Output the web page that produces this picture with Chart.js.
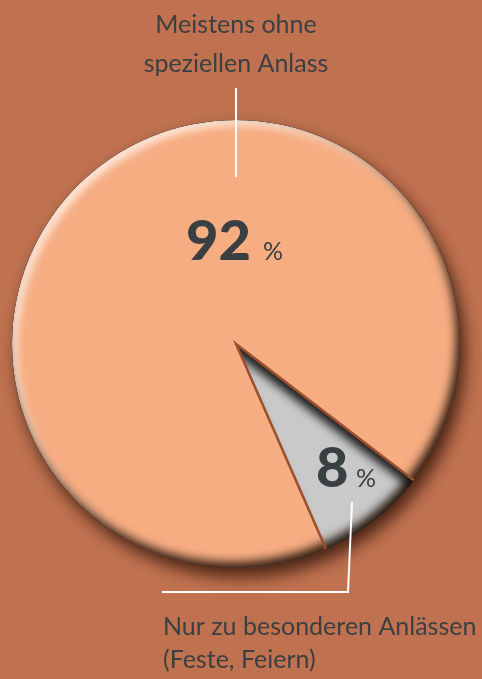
<!DOCTYPE html>
<html>
<head>
<meta charset="utf-8">
<script src="https://cdn.jsdelivr.net/npm/chart.js@4.4.1/dist/chart.umd.min.js"></script>
<style>
  html, body { margin: 0; padding: 0; background: #c07250; }
  #wrap { position: relative; width: 482px; height: 679px; }
</style>
</head>
<body>
<div id="wrap"><canvas id="pieChart"></canvas></div>
<script>
// Data
const categories = ["Nur zu besonderen Anlässen (Feste, Feiern)", "Meistens ohne speziellen Anlass"];
const shares = [8, 92];
const sliceColors = ["#c9c9c9", "#f6ad82"];
const valueLabels = ["8", "92"];

const TEXT = "#3a3f41";
const FONT = "Lato, 'Open Sans', sans-serif";

// Path2D helpers built from the arc element geometry
function circleShape(a) {
  const p = new Path2D();
  p.arc(a.x, a.y, a.outerRadius, 0, Math.PI * 2);
  return p;
}
function wedgeShape(a) {
  const p = new Path2D();
  p.moveTo(a.x, a.y);
  p.arc(a.x, a.y, a.outerRadius, a.startAngle, a.endAngle);
  p.closePath();
  return p;
}

// Shadow drawn only inside a shape
function innerShadow(ctx, shape, color, blur, dx, dy) {
  ctx.save();
  ctx.clip(shape);
  const outer = new Path2D();
  outer.rect(-2000, -2000, 5000, 5000);
  outer.addPath(shape);
  ctx.shadowColor = color;
  ctx.shadowBlur = blur;
  ctx.shadowOffsetX = dx;
  ctx.shadowOffsetY = dy;
  ctx.fillStyle = "#000";
  ctx.fill(outer, "evenodd");
  ctx.restore();
}

const pieEffects = {
  id: "pieEffects",
  beforeDatasetsDraw(chart) {
    const arc = chart.getDatasetMeta(0).data[0];
    const ctx = chart.ctx;
    // drop shadow under the whole pie
    ctx.save();
    ctx.shadowColor = "rgba(45,18,6,0.8)";
    ctx.shadowBlur = 16;
    ctx.shadowOffsetX = 5;
    ctx.shadowOffsetY = 9;
    ctx.fillStyle = sliceColors[1];
    ctx.fill(circleShape(arc));
    ctx.restore();
  },
  afterDatasetsDraw(chart) {
    const ctx = chart.ctx;
    const grey = chart.getDatasetMeta(0).data[0];
    const circle = circleShape(grey);

    // rim: light top-left, dark bottom-right
    innerShadow(ctx, circle, "rgba(255,238,225,0.95)", 9, 5, 5);
    innerShadow(ctx, circle, "rgba(35,18,8,0.9)", 10, -4, -6);

    // recessed grey slice
    const wedge = wedgeShape(grey);
    innerShadow(ctx, wedge, "rgba(20,20,20,0.95)", 10, -4, 7);

    // brown edge along the two straight sides
    const r = grey.outerRadius;
    ctx.save();
    ctx.strokeStyle = "#9c4f2d";
    ctx.lineWidth = 2.5;
    ctx.lineJoin = "miter";
    ctx.beginPath();
    ctx.moveTo(grey.x + r * Math.cos(grey.endAngle), grey.y + r * Math.sin(grey.endAngle));
    ctx.lineTo(grey.x, grey.y);
    ctx.lineTo(grey.x + r * Math.cos(grey.startAngle), grey.y + r * Math.sin(grey.startAngle));
    ctx.stroke();
    ctx.restore();
  },
  afterDraw(chart) {
    const ctx = chart.ctx;
    ctx.save();

    // leader lines
    ctx.strokeStyle = "#ffffff";
    ctx.lineWidth = 2;
    ctx.beginPath();
    ctx.moveTo(236, 88);
    ctx.lineTo(236, 177);
    ctx.stroke();
    ctx.beginPath();
    ctx.moveTo(352, 502);
    ctx.lineTo(348, 592);
    ctx.lineTo(162, 592);
    ctx.stroke();

    // category labels
    ctx.fillStyle = TEXT;
    ctx.font = "25px " + FONT;
    ctx.textBaseline = "alphabetic";
    ctx.textAlign = "center";
    ctx.fillText("Meistens ohne", 236, 33);
    ctx.fillText("speziellen Anlass", 236, 72);
    ctx.textAlign = "left";
    ctx.fillText("Nur zu besonderen Anlässen", 163, 635);
    ctx.fillText("(Feste, Feiern)", 163, 668);

    // values
    ctx.font = "900 56px " + FONT;
    ctx.fillText(valueLabels[1], 186, 260);
    ctx.fillText(valueLabels[0], 316, 487);
    ctx.font = "25px " + FONT;
    ctx.fillText("%", 263, 260);
    ctx.fillText("%", 356, 487);

    ctx.restore();
  }
};

const ctx = document.getElementById("pieChart").getContext("2d");
const pieChart = new Chart(ctx, {
  type: "pie",
  data: {
    labels: categories,
    datasets: [
      {
        data: shares,
        backgroundColor: sliceColors,
        borderWidth: 0,
      },
    ],
  },
  options: {
    responsive: true,
    maintainAspectRatio: false,
    animation: false,
    rotation: 127.5, // grey slice starts a bit past 4 o'clock
    layout: {
      padding: { left: 12, right: 22, top: 120, bottom: 111 },
    },
    plugins: {
      legend: { display: false },
      tooltip: { enabled: false },
    },
  },
  plugins: [pieEffects],
});
</script>
</body>
</html>
